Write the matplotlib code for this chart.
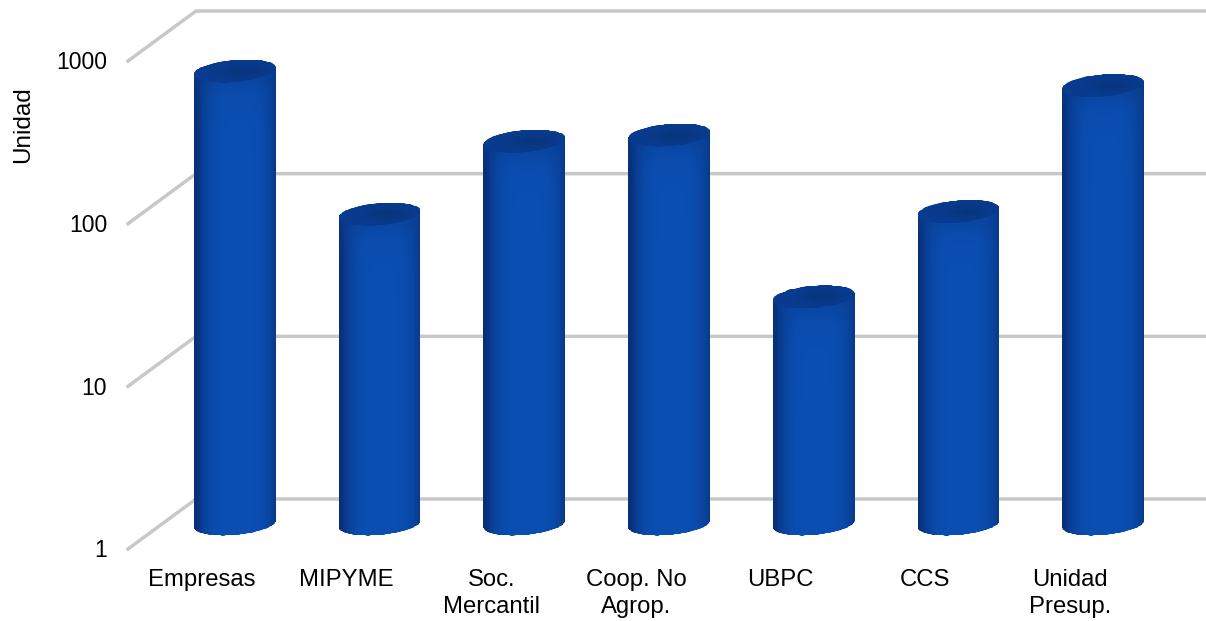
'''Cylindres bleus sur echelle log, faux effet 3D comme dans le tableur'''

import numpy as np
import matplotlib
matplotlib.use("Agg")
import matplotlib.pyplot as plt
from matplotlib.path import Path
from matplotlib.transforms import Affine2D, IdentityTransform
from matplotlib.ticker import FixedLocator, FixedFormatter, NullLocator

plt.rcParams['font.family'] = ['Liberation Sans', 'DejaVu Sans']

categories = ["Empresas", "MIPYME", "Soc.\nMercantil", "Coop. No\nAgrop.", "UBPC", "CCS", "Unidad\nPresup."]
values = [609, 80.3, 225.6, 246, 24.9, 83.4, 496]
y_ticks = [1, 10, 100, 1000]
y_tick_labels = ["1", "10", "100", "1000"]

W, H = 1206, 621
fig = plt.figure(figsize=(W / 100, H / 100), dpi=100)
ax = fig.add_axes([128 / W, (H - 549) / H, 1013 / W, 488 / H])
ax.set_yscale("log")
ax.set_xlim(-0.5, 6.5)
ax.set_ylim(1, 1000)
for s in ax.spines.values():
    s.set_visible(False)
ax.patch.set_visible(False)

ax.yaxis.set_major_locator(FixedLocator(y_ticks))
ax.yaxis.set_major_formatter(FixedFormatter(y_tick_labels))
ax.yaxis.set_minor_locator(NullLocator())
ax.set_xticks(range(len(categories)))
ax.set_xticklabels(categories, fontsize=17.2, linespacing=1.28)
ax.tick_params(axis="x", length=0, pad=14.7)
ax.tick_params(axis="y", length=0, pad=15, labelsize=16.5)
for lab in ax.get_yticklabels():
    lab.set_transform(lab.get_transform() + Affine2D().translate(0, 0.8))
for lab in ax.get_xticklabels():
    lab.set_transform(lab.get_transform() + Affine2D().translate(1.5, 0))
ax.set_ylabel("Unidad", fontsize=17.5)
ax.yaxis.set_label_coords((34 - 128) / 1013, (549 - 125) / 488)

# murs : decalage en pixels entre le plan avant et le fond
depth = np.array([68, 50])
bar_off = np.array([34.5, 25])
line_grey = "#c8c8c8"

for t in y_ticks:
    p = ax.transData.transform((-0.5, t))
    q = p + depth
    r = ax.transData.transform((6.5, t)) + depth + np.array([10, 0])
    ax.plot([p[0], q[0], r[0]], [p[1], q[1], r[1]], color=line_grey, lw=2.5,
            transform=IdentityTransform(), clip_on=False, zorder=1, solid_joinstyle="miter")

half_w = 41 / 144.7  # demi largeur en unites de categorie
tilt = np.deg2rad(5)
ry = 11


def ellipse_pts(cx, cy, a, b, th0, th1, n=60):
    t = np.linspace(th0, th1, n)
    x = a * np.cos(t)
    y = b * np.sin(t)
    xr = x * np.cos(tilt) - y * np.sin(tilt)
    yr = x * np.sin(tilt) + y * np.cos(tilt)
    return np.column_stack([cx + xr, cy + yr])


c_mid = np.array([10, 78, 178]) / 255
c_edge = np.array([8, 48, 122]) / 255
c_top = np.array([8, 58, 140]) / 255

for i, v in enumerate(values):
    base = ax.transData.transform((i, 1)) + bar_off
    top = ax.transData.transform((i, v)) + bar_off
    a = (ax.transData.transform((i + half_w, 1))[0] - ax.transData.transform((i - half_w, 1))[0]) / 2

    low = ellipse_pts(base[0], base[1], a, ry, np.pi, 2 * np.pi)
    up = ellipse_pts(top[0], top[1], a, ry, 0, np.pi)
    body = np.vstack([low, up, low[:1]])
    clip = Path(body, closed=True)

    xs = np.linspace(base[0] - a - 2, base[0] + a + 2, 60)
    ys = np.linspace(base[1] - ry - 6, top[1] + ry + 6, int(top[1] - base[1]) + 40)
    u = (0.5 * (xs[:-1] + xs[1:]) - base[0] - 3) / a
    yc = 0.5 * (ys[:-1] + ys[1:])
    shade = np.clip(np.abs(u), 0, 1) ** 4
    rgb = np.zeros((len(yc), len(u), 3))
    for k in range(3):
        col = c_mid[k] + (c_edge[k] - c_mid[k]) * shade
        dark = np.exp(-np.clip(top[1] - ry - yc, 0, None) / 14)[:, None]
        rgb[:, :, k] = col[None, :] * (1 - 0.4 * dark) + c_top[k] * 0.4 * dark
    mesh = ax.pcolormesh(xs, ys, rgb, transform=IdentityTransform(), zorder=3, shading="flat")
    mesh.set_clip_box(None)
    mesh.set_clip_path(clip, IdentityTransform())

    # couvercle
    lid = Path(ellipse_pts(top[0], top[1], a, ry, 0, 2 * np.pi), closed=True)
    lx = np.linspace(top[0] - a - 2, top[0] + a + 2, 40)
    ly = np.linspace(top[1] - ry - 6, top[1] + ry + 6, 30)
    lux = (0.5 * (lx[:-1] + lx[1:]) - top[0] - 8) / a
    luy = (0.5 * (ly[:-1] + ly[1:]) - top[1]) / ry
    d = np.exp(-(lux[None, :] ** 2 * 3 + luy[:, None] ** 2 * 2))
    lrgb = np.zeros((len(luy), len(lux), 3))
    for k in range(3):
        lrgb[:, :, k] = c_top[k] * (1.03 - 0.13 * d)
    lm = ax.pcolormesh(lx, ly, np.clip(lrgb, 0, 1), transform=IdentityTransform(), zorder=4, shading="flat")
    lm.set_clip_box(None)
    lm.set_clip_path(lid, IdentityTransform())

fig.savefig("out.png", dpi=100)
